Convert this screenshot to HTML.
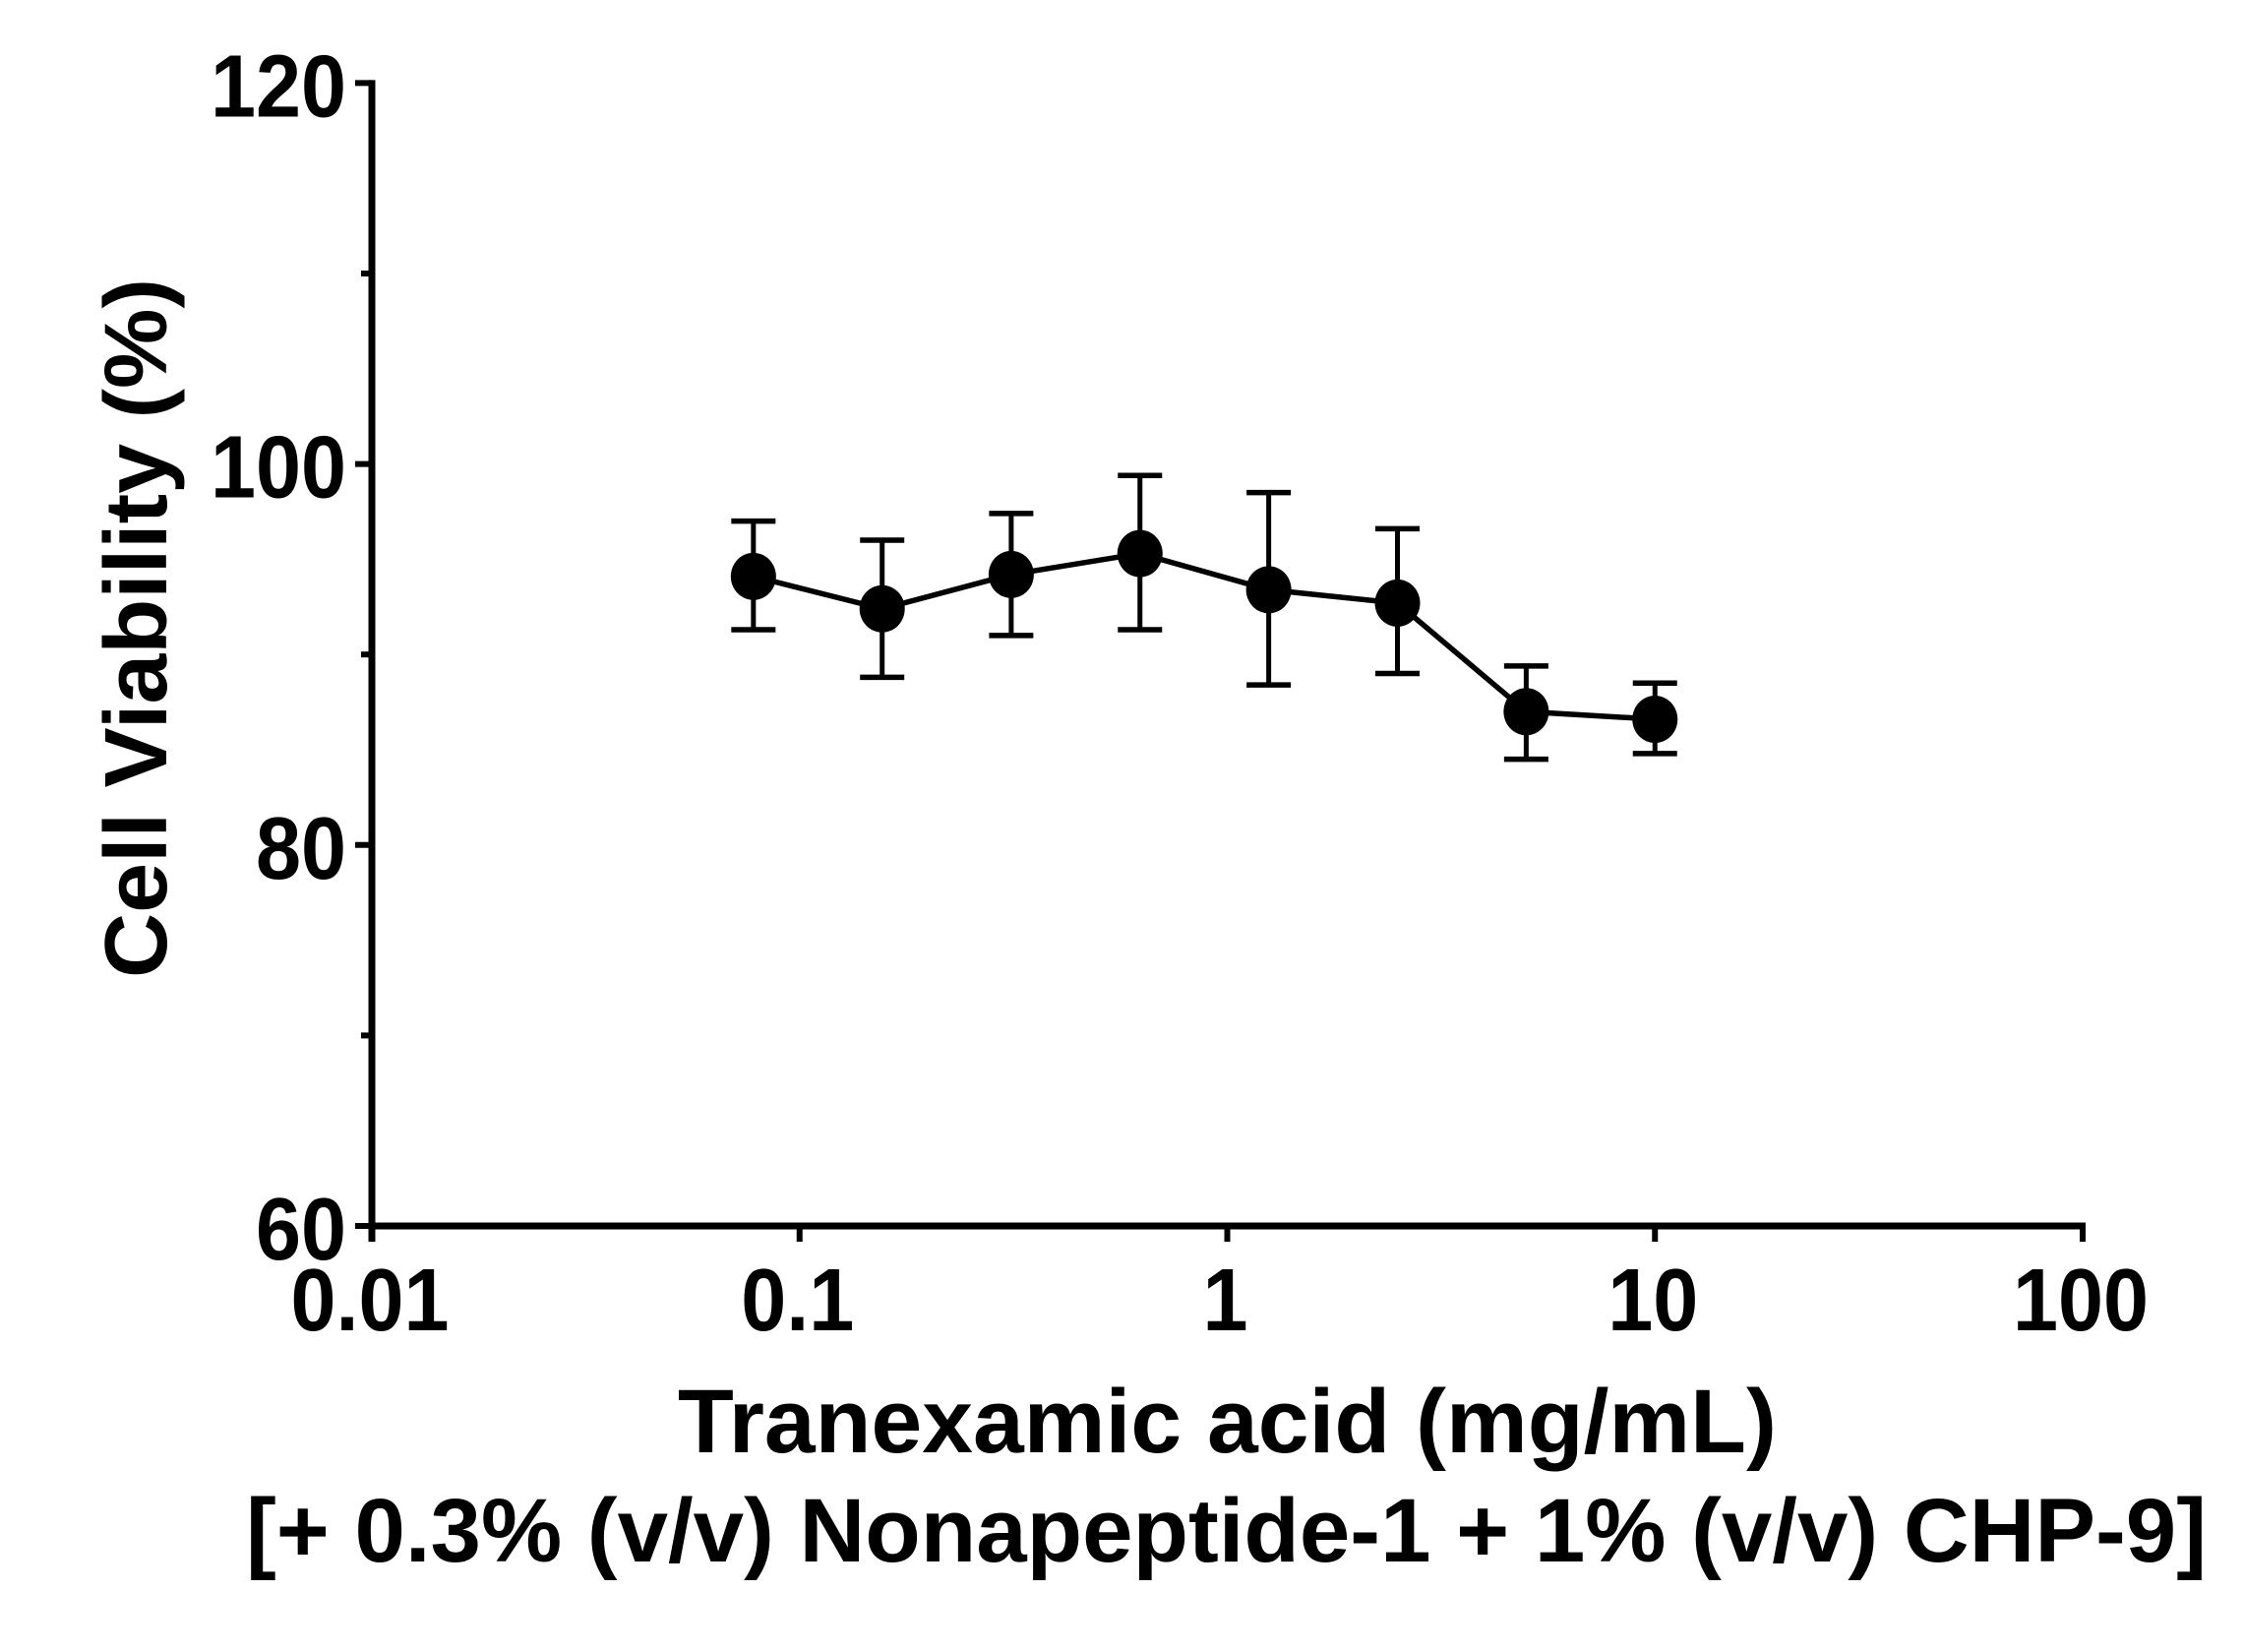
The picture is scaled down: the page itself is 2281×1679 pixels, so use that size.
<!DOCTYPE html>
<html lang="en">
<head>
<meta charset="utf-8">
<title>Cell Viability vs Tranexamic acid</title>
<style>
html,body{margin:0;padding:0;background:#fff;width:2281px;height:1679px;overflow:hidden}
svg{display:block}
text{font-family:"Liberation Sans",sans-serif;font-weight:bold;fill:#000}
</style>
</head>
<body>
<svg id="chart" xmlns="http://www.w3.org/2000/svg" width="2281" height="1679" viewBox="0 0 2281 1679">
  <rect width="2281" height="1679" fill="#fff"/>
  <g id="y-axis"></g>
  <g id="x-axis"></g>
  <g id="series"></g>
  <text transform="translate(169,994) rotate(-90)" font-size="90" textLength="711" lengthAdjust="spacingAndGlyphs">Cell Viability (%)</text>
  <text x="689" y="1476" font-size="92" textLength="1117" lengthAdjust="spacingAndGlyphs">Tranexamic acid (mg/mL)</text>
  <text x="250" y="1587" font-size="92" textLength="1993" lengthAdjust="spacingAndGlyphs">[+ 0.3% (v/v) Nonapeptide-1 + 1% (v/v) CHP-9]</text>
</svg>
<script>
const concentrations = [0.078, 0.156, 0.3125, 0.625, 1.25, 2.5, 5, 10];
const viability = [94.1, 92.4, 94.2, 95.3, 93.4, 92.7, 87.0, 86.6];
const errorUpper = [97.0, 96.0, 97.4, 99.4, 98.5, 96.6, 89.4, 88.5];
const errorLower = [91.3, 88.8, 91.0, 91.3, 88.4, 89.0, 84.5, 84.8];
const xTickValues = [0.01, 0.1, 1, 10, 100];
const xTickLabels = ["0.01", "0.1", "1", "10", "100"];
const yMajorTicks = [60, 80, 100, 120];
const yTickLabels = ["60", "80", "100", "120"];
const yMinorTicks = [70, 90, 110];

const NS = "http://www.w3.org/2000/svg";
function xScale(v) { return 378 + 434.75 * (Math.log10(v) + 2); }
function yScale(v) { return 1246 - (v - 60) * 19.36; }
function labelWidth(s) { return s.replace(".", "").length * 46 + (s.indexOf(".") >= 0 ? 23 : 0); }
function make(tag, parent, attrs) {
  const el = document.createElementNS(NS, tag);
  for (const k in attrs) el.setAttribute(k, attrs[k]);
  parent.appendChild(el);
  return el;
}
const yAxisG = document.getElementById("y-axis");
const xAxisG = document.getElementById("x-axis");
const seriesG = document.getElementById("series");

const yLine = make("line", yAxisG, {x1: xScale(0.01), x2: xScale(0.01), y1: yScale(120) - 3, y2: 1262, stroke: "#000", "stroke-width": 7});


yMajorTicks.forEach(function (v, i) {
  const t = make("line", yAxisG, {x1: 361, x2: xScale(0.01), y1: yScale(v), y2: yScale(v), stroke: "#000", "stroke-width": 6});
  
  
  const l = make("text", yAxisG, {x: 352, y: yScale(v) + 34, "font-size": 90, "text-anchor": "end"});
  l.setAttribute('textLength', labelWidth(yTickLabels[i]));
  l.setAttribute('lengthAdjust', 'spacingAndGlyphs');
  
  
  l.textContent = yTickLabels[i];
});
yMinorTicks.forEach(function (v) {
  const t = make("line", yAxisG, {x1: 367, x2: xScale(0.01), y1: yScale(v), y2: yScale(v), stroke: "#000", "stroke-width": 6});
  
  
});

const xLine = make("line", xAxisG, {x1: xScale(0.01), x2: xScale(100) + 3, y1: yScale(60), y2: yScale(60), stroke: "#000", "stroke-width": 7});


xTickValues.forEach(function (v, i) {
  const t = make("line", xAxisG, {x1: xScale(v), x2: xScale(v), y1: yScale(60), y2: 1262, stroke: "#000", "stroke-width": 6});
  
  
  const label = xTickLabels[i];
  const l = make("text", xAxisG, {x: xScale(v) - 2, y: 1352, "font-size": 90, "text-anchor": "middle"});
  l.setAttribute('textLength', labelWidth(label));
  l.setAttribute('lengthAdjust', 'spacingAndGlyphs');
  
  
  l.textContent = label;
});

const points = concentrations.map(function (c, i) { return xScale(c) + "," + yScale(viability[i]); }).join(" ");
const dataLine = make("polyline", seriesG, {points: points, fill: "none", stroke: "#000", "stroke-width": 5.5});



concentrations.forEach(function (c, i) {
  const x = xScale(c);
  const stem = make("line", seriesG, {x1: x, x2: x, y1: yScale(errorUpper[i]), y2: yScale(errorLower[i]), stroke: "#000", "stroke-width": 5});
  
  
  const capTop = make("line", seriesG, {x1: x - 22.5, x2: x + 22.5, y1: yScale(errorUpper[i]), y2: yScale(errorUpper[i]), stroke: "#000", "stroke-width": 5.5});
  
  
  const capBottom = make("line", seriesG, {x1: x - 22.5, x2: x + 22.5, y1: yScale(errorLower[i]), y2: yScale(errorLower[i]), stroke: "#000", "stroke-width": 5.5});
  
  
  const dot = make("ellipse", seriesG, {cx: x, cy: yScale(viability[i]), rx: 23, ry: 24, fill: "#000"});
  
  
});
</script>
</body>
</html>
